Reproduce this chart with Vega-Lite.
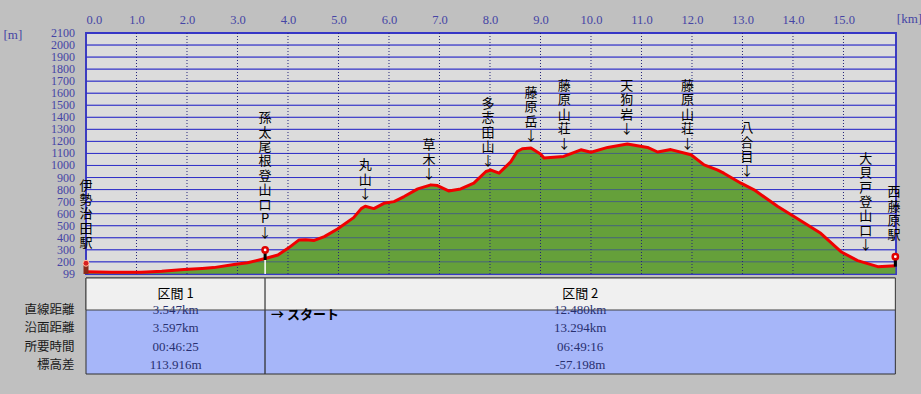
{
  "$schema": "https://vega.github.io/schema/vega-lite/v6.json",
  "background": "#c0c0c0",
  "padding": {"left": 2, "top": 11, "right": 2, "bottom": 21},
  "spacing": 4,
  "bounds": "flush",
  "config": {"view": {"stroke": null}, "font": "Noto Sans CJK JP"},
  "datasets": {
    "profile": [
      {"km": 0, "elev": 118}, {"km": 0.5, "elev": 114}, {"km": 1.09, "elev": 114}, {"km": 1.5, "elev": 122},
      {"km": 1.94, "elev": 137}, {"km": 2.3, "elev": 145}, {"km": 2.53, "elev": 152}, {"km": 2.93, "elev": 178},
      {"km": 3.2, "elev": 192}, {"km": 3.547, "elev": 228}, {"km": 3.62, "elev": 236}, {"km": 3.8, "elev": 257},
      {"km": 4.0, "elev": 312}, {"km": 4.22, "elev": 382}, {"km": 4.35, "elev": 384}, {"km": 4.52, "elev": 378},
      {"km": 4.72, "elev": 409}, {"km": 4.98, "elev": 473}, {"km": 5.3, "elev": 567}, {"km": 5.45, "elev": 642},
      {"km": 5.53, "elev": 662}, {"km": 5.7, "elev": 642}, {"km": 5.9, "elev": 686}, {"km": 6.1, "elev": 700},
      {"km": 6.3, "elev": 742}, {"km": 6.57, "elev": 806}, {"km": 6.83, "elev": 839}, {"km": 6.96, "elev": 833},
      {"km": 7.18, "elev": 789}, {"km": 7.42, "elev": 805}, {"km": 7.68, "elev": 853}, {"km": 7.92, "elev": 950},
      {"km": 8.02, "elev": 962}, {"km": 8.18, "elev": 936}, {"km": 8.41, "elev": 1030}, {"km": 8.54, "elev": 1116},
      {"km": 8.64, "elev": 1139}, {"km": 8.81, "elev": 1145}, {"km": 9.0, "elev": 1095}, {"km": 9.07, "elev": 1062},
      {"km": 9.46, "elev": 1075}, {"km": 9.8, "elev": 1130}, {"km": 10.0, "elev": 1110}, {"km": 10.33, "elev": 1150},
      {"km": 10.72, "elev": 1178}, {"km": 11.12, "elev": 1150}, {"km": 11.32, "elev": 1112}, {"km": 11.58, "elev": 1132},
      {"km": 11.98, "elev": 1089}, {"km": 12.24, "elev": 1005}, {"km": 12.5, "elev": 964}, {"km": 12.63, "elev": 936},
      {"km": 12.97, "elev": 853}, {"km": 13.23, "elev": 798}, {"km": 13.7, "elev": 659}, {"km": 14.02, "elev": 576},
      {"km": 14.55, "elev": 437}, {"km": 14.95, "elev": 284}, {"km": 15.28, "elev": 210}, {"km": 15.68, "elev": 160},
      {"km": 16.027, "elev": 168}
    ],
    "hgrid": [
      {"elev": 99}, {"elev": 200}, {"elev": 300}, {"elev": 400}, {"elev": 500}, {"elev": 600}, {"elev": 700},
      {"elev": 800}, {"elev": 900}, {"elev": 1000}, {"elev": 1100}, {"elev": 1200}, {"elev": 1300}, {"elev": 1400},
      {"elev": 1500}, {"elev": 1600}, {"elev": 1700}, {"elev": 1800}, {"elev": 1900}, {"elev": 2000}, {"elev": 2100}
    ],
    "vgrid": [
      {"km": 1}, {"km": 2}, {"km": 3}, {"km": 4}, {"km": 5}, {"km": 6}, {"km": 7}, {"km": 8},
      {"km": 9}, {"km": 10}, {"km": 11}, {"km": 12}, {"km": 13}, {"km": 14}, {"km": 15}
    ],
    "pins": [
      {"km": 3.547, "elev": 299, "stemTop": 284, "stemBot": 215, "lineBot": 99},
      {"km": 16.027, "elev": 243, "stemTop": 228, "stemBot": 160, "lineBot": 160}
    ],
    "walker": [{"km": 0, "elev": 188, "stemTop": 176, "stemBot": 99}],
    "labels": [
      {"km": 0, "elev": 883, "label": "伊\n勢\n治\n田\n駅"},
      {"km": 3.547, "elev": 1443, "label": "孫\n太\n尾\n根\n登\n山\n口\nP\n↓"},
      {"km": 5.53, "elev": 1050, "label": "丸\n山\n↓"},
      {"km": 6.79, "elev": 1216, "label": "草\n木\n↓"},
      {"km": 7.96, "elev": 1562, "label": "多\n志\n田\n山\n↓"},
      {"km": 8.81, "elev": 1653, "label": "藤\n原\n岳\n↓"},
      {"km": 9.47, "elev": 1709, "label": "藤\n原\n山\n荘\n↓"},
      {"km": 10.71, "elev": 1709, "label": "天\n狗\n岩\n↓"},
      {"km": 11.91, "elev": 1709, "label": "藤\n原\n山\n荘\n↓"},
      {"km": 13.09, "elev": 1360, "label": "八\n合\n目\n↓"},
      {"km": 15.44, "elev": 1105, "label": "大\n貝\n戸\n登\n山\n口\n↓"},
      {"km": 16.0, "elev": 828, "label": "西\n藤\n原\n駅"}
    ],
    "sections": [
      {"sec": "区間 1", "hdr": "区間", "start": 0, "end": 3.547, "mid": 1.774},
      {"sec": "区間 2", "hdr": "区間", "start": 3.547, "end": 16.027, "mid": 9.787}
    ],
    "cells": [
      {"mid": 1.774, "row": "直線距離", "value": "3.547km"},
      {"mid": 1.774, "row": "沿面距離", "value": "3.597km"},
      {"mid": 1.774, "row": "所要時間", "value": "00:46:25"},
      {"mid": 1.774, "row": "標高差", "value": "113.916m"},
      {"mid": 9.787, "row": "直線距離", "value": "12.480km"},
      {"mid": 9.787, "row": "沿面距離", "value": "13.294km"},
      {"mid": 9.787, "row": "所要時間", "value": "06:49:16"},
      {"mid": 9.787, "row": "標高差", "value": "-57.198m"}
    ],
    "note": [{"start": 3.547, "row": "直線距離", "note": "→ スタート"}]
  },
  "vconcat": [
    {
      "width": 810,
      "height": 241,
      "view": {"fill": "#dcdcdc", "stroke": "#3c3cc0", "strokeWidth": 2},
      "layer": [
        {
          "data": {"name": "hgrid"},
          "mark": {"type": "rule", "color": "#3c3cd0", "strokeWidth": 1},
          "encoding": {
            "y": {
              "field": "elev", "type": "quantitative",
              "scale": {"domain": [99, 2100], "nice": false, "zero": false},
              "axis": {
                "orient": "left",
                "values": [99, 200, 300, 400, 500, 600, 700, 800, 900, 1000, 1100, 1200, 1300, 1400, 1500, 1600, 1700, 1800, 1900, 2000, 2100],
                "format": "d", "labels": false,
                "grid": false, "ticks": false, "domain": false,
                "title": "[m]", "titleAngle": 0, "titleX": -83, "titleY": 1, "titleAlign": "left", "titleBaseline": "middle",
                "titleFont": "Liberation Serif", "titleFontSize": 13, "titleFontWeight": "normal", "titleColor": "#4545a5"
              }
            }
          }
        },
        {
          "data": {"name": "hgrid"},
          "mark": {"type": "text", "align": "right", "baseline": "middle", "dx": -11, "font": "Liberation Serif", "fontSize": 12, "fill": "#4545a5"},
          "encoding": {
            "x": {"datum": 0, "type": "quantitative"},
            "y": {"field": "elev", "type": "quantitative"},
            "text": {"field": "elev", "type": "quantitative", "format": "d"}
          }
        },
        {
          "data": {"name": "profile"},
          "mark": {"type": "area", "color": "#65a03a"},
          "encoding": {
            "x": {
              "field": "km", "type": "quantitative",
              "scale": {"domain": [0, 16.04], "nice": false, "zero": false},
              "axis": {
                "orient": "top", "values": [0, 1, 2, 3, 4, 5, 6, 7, 8, 9, 10, 11, 12, 13, 14, 15],
                "format": ".1f", "grid": false, "ticks": false, "domain": false,
                "labelFont": "Liberation Serif", "labelFontSize": 12.5, "labelColor": "#4545a5",
                "labelPadding": 7, "labelFlush": true,
                "title": "[km]", "titleX": 823, "titleY": -15, "titleAlign": "center", "titleBaseline": "middle",
                "titleFont": "Liberation Serif", "titleFontSize": 13, "titleFontWeight": "normal", "titleColor": "#4545a5"
              }
            },
            "y": {"field": "elev", "type": "quantitative"},
            "y2": {"datum": 99}
          }
        },
        {
          "data": {"name": "hgrid"},
          "mark": {"type": "rule", "color": "#2828c0", "strokeWidth": 1, "opacity": 0.5},
          "encoding": {"y": {"field": "elev", "type": "quantitative"}}
        },
        {
          "data": {"name": "vgrid"},
          "mark": {"type": "rule", "color": "#24247a", "strokeWidth": 1, "strokeDash": [1, 2]},
          "encoding": {"x": {"field": "km", "type": "quantitative"}}
        },
        {
          "data": {"name": "profile"},
          "mark": {"type": "line", "color": "#f00000", "strokeWidth": 3, "strokeJoin": "round"},
          "encoding": {
            "x": {"field": "km", "type": "quantitative"},
            "y": {"field": "elev", "type": "quantitative"}
          }
        },
        {
          "data": {"name": "pins"},
          "mark": {"type": "rule", "color": "#ffffff", "strokeWidth": 1.5},
          "encoding": {
            "x": {"field": "km", "type": "quantitative"},
            "y": {"field": "stemBot", "type": "quantitative"},
            "y2": {"field": "lineBot"}
          }
        },
        {
          "data": {"name": "pins"},
          "mark": {"type": "rule", "color": "#000000", "strokeWidth": 3},
          "encoding": {
            "x": {"field": "km", "type": "quantitative"},
            "y": {"field": "stemTop", "type": "quantitative"},
            "y2": {"field": "stemBot"}
          }
        },
        {
          "data": {"name": "pins"},
          "mark": {"type": "point", "shape": "circle", "filled": true, "fill": "#ffffff", "stroke": "#e00000", "strokeWidth": 2.5, "size": 28, "opacity": 1},
          "encoding": {
            "x": {"field": "km", "type": "quantitative"},
            "y": {"field": "elev", "type": "quantitative"}
          }
        },
        {
          "data": {"name": "walker"},
          "mark": {"type": "rule", "color": "#8a2a1a", "strokeWidth": 5},
          "encoding": {
            "x": {"field": "km", "type": "quantitative"},
            "y": {"field": "stemTop", "type": "quantitative"},
            "y2": {"field": "stemBot"}
          }
        },
        {
          "data": {"name": "walker"},
          "mark": {"type": "point", "shape": "circle", "filled": true, "fill": "#d82020", "stroke": "#ffc0a0", "strokeWidth": 1, "size": 36, "opacity": 1},
          "encoding": {
            "x": {"field": "km", "type": "quantitative"},
            "y": {"field": "elev", "type": "quantitative"}
          }
        },
        {
          "data": {"name": "labels"},
          "mark": {"type": "text", "lineBreak": "\n", "lineHeight": 14.4, "baseline": "top", "align": "center",
                   "font": "Noto Sans CJK JP", "fontSize": 13, "fill": "#000000"},
          "encoding": {
            "x": {"field": "km", "type": "quantitative"},
            "y": {"field": "elev", "type": "quantitative"},
            "text": {"field": "label"}
          }
        }
      ]
    },
    {
      "width": 810,
      "height": 96,
      "layer": [
        {
          "data": {"name": "sections"},
          "mark": {"type": "rect", "fill": "#a6b6f9", "stroke": "#303030", "strokeWidth": 1},
          "encoding": {
            "x": {"field": "start", "type": "quantitative", "scale": {"domain": [0, 16.04], "nice": false, "zero": false}, "axis": null},
            "x2": {"field": "end"}
          }
        },
        {
          "data": {"name": "sections"},
          "mark": {"type": "rect", "fill": "#f0f0f0", "stroke": "#404040", "strokeWidth": 1},
          "encoding": {
            "x": {"field": "start", "type": "quantitative"},
            "x2": {"field": "end"},
            "y": {"field": "hdr", "type": "nominal", "scale": {"type": "band", "domain": ["区間"], "paddingInner": 0, "paddingOuter": 1.587, "align": 0}, "axis": null}
          }
        },
        {
          "data": {"name": "sections"},
          "mark": {"type": "text", "font": "Noto Sans CJK JP", "fontSize": 13, "fill": "#000000"},
          "encoding": {
            "x": {"field": "mid", "type": "quantitative"},
            "y": {"field": "hdr", "type": "nominal", "scale": {"type": "band", "domain": ["区間"], "paddingInner": 0, "paddingOuter": 1.587, "align": 0}, "axis": null},
            "text": {"field": "sec"}
          }
        },
        {
          "data": {"name": "cells"},
          "mark": {"type": "text", "font": "Liberation Serif", "fontSize": 13, "fill": "#283070"},
          "encoding": {
            "x": {"field": "mid", "type": "quantitative"},
            "y": {
              "field": "row", "type": "nominal",
              "scale": {"type": "band", "domain": ["直線距離", "沿面距離", "所要時間", "標高差"], "paddingInner": 0, "paddingOuter": 0.63, "align": 1},
              "axis": {"orient": "left", "title": null, "ticks": false, "domain": false, "labelPadding": 12,
                       "labelFont": "Noto Sans CJK JP", "labelFontSize": 12.5, "labelColor": "#1a1a1a"}
            },
            "text": {"field": "value"}
          }
        },
        {
          "data": {"name": "note"},
          "mark": {"type": "text", "align": "left", "dx": 6, "dy": 5, "font": "Noto Sans CJK JP", "fontSize": 13, "fontWeight": "bold", "fill": "#000000"},
          "encoding": {
            "x": {"field": "start", "type": "quantitative"},
            "y": {"field": "row", "type": "nominal",
                  "scale": {"type": "band", "domain": ["直線距離", "沿面距離", "所要時間", "標高差"], "paddingInner": 0, "paddingOuter": 0.63, "align": 1},
                  "axis": null},
            "text": {"field": "note"}
          }
        }
      ],
      "resolve": {"scale": {"y": "independent"}, "axis": {"y": "independent"}}
    }
  ]
}
